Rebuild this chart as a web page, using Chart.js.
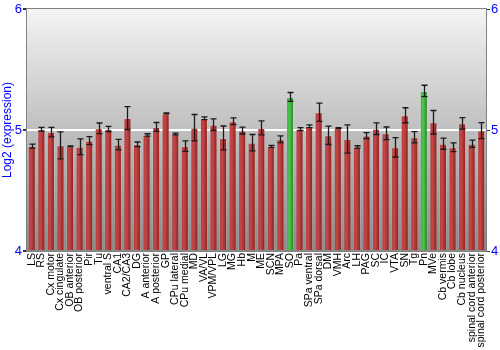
<!DOCTYPE html>
<html>
<head>
<meta charset="utf-8">
<script src="https://cdn.jsdelivr.net/npm/chart.js@4/dist/chart.umd.min.js"></script>
<style>
html,body{margin:0;padding:0;background:#fff;}
#wrap{width:500px;height:350px;position:relative;}
</style>
</head>
<body>
<div id="wrap"><canvas id="c" width="500" height="350"></canvas></div>
<script>
const categories = ["LS","RS","Cx motor","Cx cingulate","OB anterior","OB posterior","Pir","Tu","ventral S","CA1","CA2/CA3","DG","A anterior","A posterior","GP","CPu lateral","CPu medial","MD","VA/VL","VPM/VPL","LG","MG","Hb","M","ME","SCN","MPA","SO","Pa","SPa ventral","SPa dorsal","DM","VMH","Arc","LH","PAG","SC","IC","VTA","SN","Tg","Pn","MVe","Cb vermis","Cb lobe","Cb nucleus","spinal cord anterior","spinal cord posterior"];
const values = [4.867,5.006,4.983,4.873,4.865,4.862,4.912,5.014,5.008,4.879,5.099,4.882,4.959,5.025,5.138,4.967,4.867,5.019,5.097,5.044,4.934,5.072,4.995,4.895,5.017,4.865,4.923,5.273,5.008,5.031,5.147,4.956,5.017,4.926,4.860,4.954,5.011,4.973,4.857,5.122,4.940,5.323,5.064,4.887,4.857,5.055,4.887,4.995];
const errors = [0.017,0.015,0.039,0.112,0.003,0.065,0.033,0.044,0.022,0.044,0.095,0.019,0.010,0.037,0.003,0.008,0.043,0.109,0.011,0.048,0.099,0.028,0.028,0.068,0.058,0.008,0.028,0.037,0.012,0.011,0.075,0.076,0.003,0.117,0.010,0.025,0.048,0.052,0.080,0.062,0.046,0.047,0.097,0.046,0.036,0.047,0.030,0.066];
const highlighted = ["SO","Pn"];
const yTicks = [4,5,6];

const barPct = 0.84;
function barFill(ctx){
  const chart = ctx.chart;
  const xs = chart.scales && chart.scales.x;
  const hl = highlighted.includes(categories[ctx.dataIndex]);
  const flat = hl ? '#3aa83a' : '#b83a3a';
  if(!xs || ctx.dataIndex === undefined) return flat;
  const cx = xs.getPixelForValue(ctx.dataIndex);
  const w = (xs.width / categories.length) * barPct;
  if(!isFinite(cx) || !isFinite(w) || w <= 0) return flat;
  const g = chart.ctx.createLinearGradient(cx - w/2, 0, cx + w/2, 0);
  if(hl){
    g.addColorStop(0,'#3fae3f'); g.addColorStop(0.45,'#4cc24c'); g.addColorStop(0.8,'#2f952f'); g.addColorStop(1,'#1f7a1f');
  } else {
    g.addColorStop(0,'#b43838'); g.addColorStop(0.4,'#c54646'); g.addColorStop(0.75,'#a12c2c'); g.addColorStop(1,'#7a1a1a');
  }
  return g;
}

const bgPlugin = {
  id:'bg',
  beforeDraw(chart){
    const {ctx, chartArea:a} = chart;
    const g = ctx.createLinearGradient(0,a.top,0,a.bottom);
    g.addColorStop(0,'#f4f4f4'); g.addColorStop(1,'#8a8a8a');
    ctx.save(); ctx.fillStyle = g; ctx.fillRect(a.left,a.top,a.right-a.left,a.bottom-a.top); ctx.restore();
  },
  afterDatasetsDraw(chart){
    const {ctx, chartArea:a} = chart;
    const xs = chart.scales.x, ys = chart.scales.y;
    ctx.save();
    ctx.strokeStyle = '#1a1a1a'; ctx.lineWidth = 1.3;
    values.forEach((v,i)=>{
      const x = Math.round(xs.getPixelForValue(i)) + 0.5;
      const yt = ys.getPixelForValue(v + errors[i]);
      const yb = ys.getPixelForValue(v - errors[i]);
      ctx.beginPath();
      ctx.moveTo(x,yt); ctx.lineTo(x,yb);
      ctx.moveTo(x-3,yt); ctx.lineTo(x+3,yt);
      ctx.moveTo(x-3,yb); ctx.lineTo(x+3,yb);
      ctx.stroke();
    });
    ctx.strokeStyle = '#808080'; ctx.lineWidth = 1;
    ctx.strokeRect(Math.round(a.left)-0.5, Math.round(a.top)-0.5, Math.round(a.right-a.left)+1, Math.round(a.bottom-a.top)+1);
    ctx.restore();
  }
};

new Chart(document.getElementById('c'), {
  type:'bar',
  data:{
    labels: categories,
    datasets:[{
      data: values,
      backgroundColor: barFill,
      borderColor: 'rgba(255,255,255,0.12)',
      borderWidth: 1,
      barPercentage: barPct,
      categoryPercentage: 1.0,
      base: 4
    }]
  },
  options:{
    responsive:false,
    animation:false,
    devicePixelRatio:1,
    layout:{padding:{top:9,right:0,left:0,bottom:0}},
    plugins:{legend:{display:false},tooltip:{enabled:false}},
    scales:{
      x:{
        grid:{display:false, drawTicks:false},
        border:{display:false},
        ticks:{color:'#000', font:{family:'Liberation Sans, Arial, sans-serif', size:10.5}, maxRotation:90, minRotation:90, autoSkip:false, padding:2},
        afterFit(s){ s.height = 99; }
      },
      y:{
        min:4, max:6,
        afterBuildTicks(s){ s.ticks = yTicks.map(v=>({value:v})); },
        grid:{color:(c)=> c.tick && c.tick.value===5 ? '#ffffff' : 'rgba(0,0,0,0)', lineWidth:2, tickLength:4, tickColor:'#333', drawTicks:true},
        border:{display:false},
        ticks:{color:'#0000ff', font:{family:'Liberation Sans, Arial, sans-serif', size:13}, padding:1},
        title:{display:true, text:'Log2 (expression)', color:'#0000ff', font:{family:'Liberation Sans, Arial, sans-serif', size:12}, padding:0},
        afterFit(s){ s.width = 27; }
      },
      y2:{
        position:'right',
        min:4, max:6,
        afterBuildTicks(s){ s.ticks = yTicks.map(v=>({value:v})); },
        grid:{drawOnChartArea:false, tickLength:4, tickColor:'#333'},
        border:{display:false},
        ticks:{color:'#0000ff', font:{family:'Liberation Sans, Arial, sans-serif', size:13}, padding:1},
        afterFit(s){ s.width = 14; }
      }
    }
  },
  plugins:[bgPlugin]
});
</script>
</body>
</html>
